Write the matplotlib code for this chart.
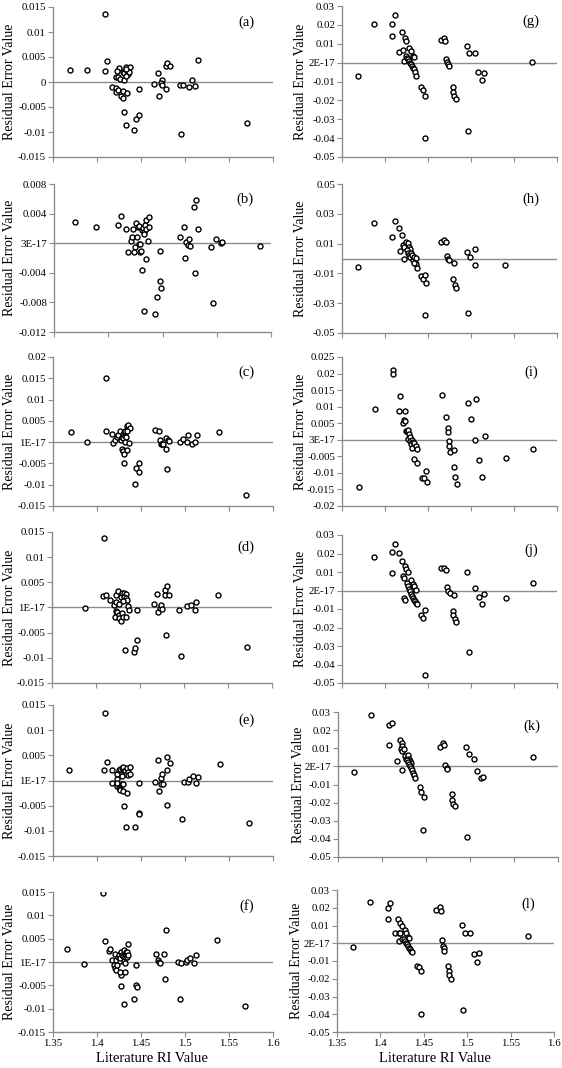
import matplotlib
matplotlib.use("Agg")
import matplotlib.pyplot as plt
import numpy as np

plt.rcParams["font.family"] = ["Liberation Serif", "DejaVu Serif"]

# ---------------- data (literature RI value, residual error) ----------------
a_x = [1.3693, 1.3883, 1.4091, 1.4087, 1.4117, 1.425, 1.4231, 1.4212, 1.4242, 1.4265, 1.4303, 1.4295,
       1.431, 1.4333, 1.4345, 1.4352, 1.436, 1.4371, 1.4326, 1.433, 1.4174, 1.4216, 1.422, 1.4242, 1.4269,
       1.4292, 1.4295, 1.4341, 1.4303, 1.4326, 1.4424, 1.4447, 1.4477, 1.4473, 1.4652, 1.4693, 1.4705,
       1.4735, 1.4723, 1.4742, 1.4788, 1.478, 1.4799, 1.4826, 1.4947, 1.4981, 1.4958, 1.5042, 1.508,
       1.5117, 1.5144, 1.5701]
a_y = [0.0024, 0.00247, 0.01367, 0.00227, 0.00413, 0.00287, 0.0022, 0.00107, 0.00107, 0.0006, 0.00047, 0.0021,
       0.0019, 0.003, 0.0023, 0.0017, 0.0021, 0.0031, 0.0013, 0.0027, -0.001, -0.0012, -0.0019, -0.0015, -0.0027,
       -0.0031, -0.0017, -0.0021, -0.0059, -0.0085, -0.0095, -0.0073, -0.0065, -0.0013, -0.0003, 0.0019, -0.0027,
       0.0005, -0.0001, -0.0005, -0.0013, 0.0033, 0.0039, 0.0033, -0.0005, -0.0005, -0.0103, -0.0009, 0.0004,
       -0.0007, 0.0045, -0.0081]

b_x = [1.3746, 1.3981, 1.4242, 1.4277, 1.4335, 1.4392, 1.4404, 1.4415, 1.4446, 1.4462, 1.4477, 1.4492,
       1.4431, 1.4419, 1.435, 1.4454, 1.4485, 1.4496, 1.4508, 1.4515, 1.4523, 1.4535, 1.4542, 1.455, 1.4558,
       1.4565, 1.4592, 1.4596, 1.4585, 1.4512, 1.4558, 1.4538, 1.4662, 1.4692, 1.4719, 1.4727, 1.4723,
       1.495, 1.4996, 1.5012, 1.5023, 1.5042, 1.5054, 1.5065, 1.5115, 1.5138, 1.5158, 1.5123, 1.5312,
       1.5331, 1.5362, 1.5423, 1.5431, 1.5869]
b_y = [0.0029, 0.0022, 0.0025, 0.0037, 0.0019, 0.0003, 0.0008, 0.0019, 0.0027, 0.0022, -0.0001, -0.0001,
       -0.0005, -0.0012, -0.0012, 0.0009, 0.0023, -0.0012, -0.0011, 0.0018, 0.0021, 0.0015, 0.0012, 0.0024, 0.0031,
       0.0019, 0.0022, 0.0036, 0.0003, -0.0036, -0.0021, -0.0092, -0.0096, -0.0073, -0.0051, -0.006, -0.0011,
       0.0008, 0.0022, -0.002, 0.0001, -0.0003, 0.0006, -0.0004, 0.0049, 0.0058, 0.0019, -0.004, -0.0005,
       -0.0081, 0.0006, 0.0, 0.0002, -0.0004]

c_x = [1.3705, 1.389, 1.4098, 1.4098, 1.417, 1.4182, 1.4205, 1.4227, 1.4239, 1.4261, 1.4269, 1.4284,
       1.4292, 1.4299, 1.4303, 1.4314, 1.4322, 1.4333, 1.4337, 1.4356, 1.4371, 1.4345, 1.4318, 1.4367,
       1.428, 1.4295, 1.4303, 1.4345, 1.4307, 1.4447, 1.4473, 1.4481, 1.4432, 1.4655, 1.4705, 1.4716,
       1.4723, 1.4735, 1.4746, 1.4784, 1.4807, 1.4822, 1.4788, 1.4792, 1.4943, 1.4981, 1.5027, 1.5038,
       1.5076, 1.5117, 1.5136, 1.5383, 1.5693]
c_y = [0.0023, 0.0001, 0.0151, 0.0025, 0.0018, -0.0003, 0.0005, 0.0012, 0.0016, 0.0027, 0.0005, 0.0012,
       0.0019, 0.0009, 0.0024, 0.0015, 0.0027, 0.0012, 0.0038, 0.004, 0.0034, 0.0025, 0.0001, -0.0001,
       -0.0016, -0.002, -0.0027, -0.0019, -0.0049, -0.006, -0.0071, -0.005, -0.0099, 0.0028, 0.0027, 0.0005,
       -0.0004, -0.0005, -0.0005, 0.001, 0.0004, 0.0003, -0.0015, -0.0063, 0.0001, 0.0008, 0.0001, 0.0016,
       -0.0004, 0.0001, 0.0017, 0.0024, -0.0123]

d_x = [1.388, 1.4089, 1.4085, 1.4119, 1.4161, 1.4203, 1.4229, 1.4229, 1.4252, 1.4226, 1.4233, 1.4218,
       1.4241, 1.4256, 1.4267, 1.4287, 1.4294, 1.4302, 1.4336, 1.426, 1.4283, 1.4294, 1.4313, 1.4336,
       1.4321, 1.434, 1.4355, 1.431, 1.4362, 1.437, 1.4328, 1.4427, 1.4446, 1.4469, 1.4469, 1.4655,
       1.4697, 1.4704, 1.4727, 1.4739, 1.475, 1.4788, 1.4784, 1.4807, 1.4826, 1.4792, 1.4948, 1.4963,
       1.5035, 1.5081, 1.5122, 1.5141, 1.5392, 1.5711]
d_y = [-0.0001, 0.0139, 0.0023, 0.0025, 0.0015, 0.0005, 0.0011, 0.0024, 0.0032, -0.0006, -0.0011, -0.0019,
       -0.0009, -0.0015, -0.0021, -0.0026, -0.0011, -0.0019, -0.0018, 0.0007, 0.0021, 0.0028, 0.0028, 0.0026,
       0.002, 0.0019, 0.0015, 0.0012, 0.0003, -0.0005, -0.0085, -0.0089, -0.0081, -0.0064, -0.0004, 0.0007,
       0.0027, -0.0008, -0.0001, 0.0004, -0.0003, 0.0034, 0.0024, 0.0042, 0.0025, -0.0054, -0.0004, -0.0096,
       0.0003, 0.0005, -0.0004, 0.0011, 0.0025, -0.0079]

e_x = [1.3686, 1.4089, 1.4085, 1.4116, 1.4165, 1.4176, 1.4222, 1.423, 1.423, 1.423, 1.4248, 1.426,
       1.4283, 1.4298, 1.4306, 1.4321, 1.4328, 1.434, 1.4347, 1.4355, 1.4374, 1.437, 1.4287, 1.4245,
       1.4256, 1.4267, 1.4279, 1.429, 1.4298, 1.434, 1.4302, 1.4328, 1.4431, 1.4473, 1.4477, 1.4477,
       1.4655, 1.4697, 1.4708, 1.4723, 1.4738, 1.4727, 1.475, 1.4792, 1.4795, 1.483, 1.4799, 1.4966,
       1.4985, 1.5039, 1.505, 1.5088, 1.5126, 1.5153, 1.54, 1.5723]
e_y = [0.002, 0.0134, 0.002, 0.0036, 0.002, -0.0005, 0.0013, 0.0003, -0.0011, -0.0005, 0.002, 0.0023,
       0.0025, 0.0026, 0.0018, 0.0019, 0.0013, 0.0024, 0.0017, 0.0011, 0.0026, 0.0013, 0.0009, -0.0014,
       -0.0016, -0.0019, -0.0006, -0.0006, -0.0021, -0.0025, -0.0051, -0.0092, -0.0093, -0.0005, -0.0064, -0.0067,
       -0.0002, 0.0041, -0.002, 0.0005, 0.0013, -0.0006, -0.0006, 0.002, 0.0046, 0.0034, -0.0048, -0.0076,
       -0.0003, -0.0003, 0.0002, 0.0008, -0.0004, 0.0006, 0.0032, -0.0085]

f_x = [1.3663, 1.3852, 1.4064, 1.4091, 1.4136, 1.4148, 1.42, 1.4174, 1.4189, 1.42, 1.4212, 1.4227,
       1.422, 1.4235, 1.4246, 1.4258, 1.4265, 1.4273, 1.4284, 1.4292, 1.4303, 1.4303, 1.4314, 1.4322,
       1.4326, 1.4333, 1.4341, 1.4345, 1.4352, 1.4269, 1.4258, 1.4318, 1.4314, 1.4348, 1.4273, 1.4303,
       1.442, 1.4447, 1.4447, 1.4451, 1.4667, 1.4689, 1.4701, 1.4712, 1.4761, 1.478, 1.4769, 1.492,
       1.4939, 1.4958, 1.5008, 1.5019, 1.5057, 1.5098, 1.5121, 1.5367, 1.5686]
f_y = [0.0028, -0.0005, 0.0148, 0.0046, 0.0024, 0.0027, 0.0017, 0.0004, -0.0006, -0.0012, -0.0017, -0.0006,
       0.0004, 0.0011, 0.0014, 0.0002, 0.0008, 0.0022, 0.0016, 0.0012, 0.0025, 0.0002, 0.0015, 0.001,
       0.0021, 0.0016, 0.0011, 0.0022, 0.0016, -0.0027, -0.0021, -0.0022, -0.0003, 0.0038, -0.0052, -0.0091,
       -0.0079, -0.0006, -0.0049, -0.0054, 0.0018, 0.0004, -0.0001, -0.0002, 0.0017, 0.0069, -0.0036, 0.0,
       -0.0079, -0.0003, 0.0, 0.0004, 0.0008, -0.0002, 0.0015, 0.0047, -0.0095]

g_x = [1.3682, 1.3871, 1.4083, 1.4111, 1.4083, 1.4203, 1.423, 1.4249, 1.4168, 1.4215, 1.4218, 1.4284,
       1.4304, 1.4331, 1.4335, 1.4246, 1.4257, 1.4269, 1.428, 1.4292, 1.4304, 1.4315, 1.4327, 1.4338,
       1.435, 1.4366, 1.442, 1.4439, 1.447, 1.4466, 1.4651, 1.4686, 1.4702, 1.4713, 1.4725, 1.4733,
       1.474, 1.4787, 1.4787, 1.4802, 1.4822, 1.4949, 1.498, 1.5046, 1.4965, 1.5084, 1.5146, 1.5123, 1.5714]
g_y = [-0.0069, 0.0205, 0.0204, 0.0251, 0.0143, 0.0161, 0.0133, 0.0115, 0.0055, 0.0067, 0.0007, 0.008,
       0.0062, 0.0037, 0.0032, 0.0035, 0.0027, 0.0018, 0.0009, 0.0, -0.0009, -0.0018, -0.0027, -0.0035,
       -0.0048, -0.0071, -0.0131, -0.0147, -0.0175, -0.0398, 0.0119, 0.0129, 0.0113, 0.0018, 0.0002, -0.0007,
       -0.0016, -0.0131, -0.0156, -0.0175, -0.0193, 0.009, 0.0051, 0.005, -0.0363, -0.0051, -0.0055, -0.0092, 0.0002]

h_x = [1.3682, 1.3871, 1.4111, 1.4083, 1.4157, 1.4203, 1.4172, 1.4211, 1.4226, 1.4222, 1.4249, 1.4269,
       1.428, 1.4296, 1.4253, 1.4269, 1.428, 1.4292, 1.4308, 1.4319, 1.4331, 1.4338, 1.4346, 1.4358,
       1.4369, 1.4362, 1.4338, 1.4423, 1.4447, 1.447, 1.4474, 1.447, 1.4651, 1.4686, 1.4705, 1.4717,
       1.4733, 1.4748, 1.4798, 1.4791, 1.481, 1.4829, 1.4949, 1.4988, 1.5042, 1.5049, 1.4968, 1.5401]
h_y = [-0.0058, 0.024, 0.0253, 0.0141, 0.0206, 0.0161, 0.0052, 0.009, 0.0078, 0.0, 0.0112, 0.0101,
       0.0078, 0.0067, 0.0056, 0.004, 0.0022, 0.0011, 0.0034, 0.0022, -0.0011, 0.0011, -0.0027, -0.004,
       -0.0061, 0.0004, -0.0029, -0.0117, -0.0137, -0.0108, -0.0164, -0.0381, 0.0112, 0.0126, 0.0114, 0.0016,
       -0.0004, -0.0013, -0.0031, -0.0135, -0.0177, -0.0197, 0.0045, 0.0007, -0.0045, 0.0067, -0.0365, -0.0045]

i_x = [1.3693, 1.3883, 1.4095, 1.4095, 1.4176, 1.4165, 1.4238, 1.4215, 1.4226, 1.4234, 1.4242, 1.4261,
       1.4273, 1.4281, 1.4265, 1.4292, 1.4292, 1.43, 1.4311, 1.4319, 1.4331, 1.4342, 1.4358, 1.4373,
       1.4342, 1.4369, 1.4478, 1.4431, 1.4458, 1.4485, 1.4663, 1.4713, 1.4729, 1.4729, 1.4744, 1.4744,
       1.4752, 1.4806, 1.4798, 1.4814, 1.4833, 1.496, 1.4999, 1.5057, 1.5045, 1.5158, 1.5096, 1.5131,
       1.5409, 1.5726]
i_y = [-0.0144, 0.0092, 0.0211, 0.02, 0.0132, 0.0088, 0.0088, 0.005, 0.0061, 0.0057, 0.0028, 0.0025,
       0.0031, 0.0017, 0.0003, 0.0009, -0.0003, -0.0013, -0.0025, -0.0001, -0.0006, -0.0011, -0.0018, -0.0028,
       -0.0058, -0.0071, -0.0093, -0.0114, -0.0114, -0.0127, 0.0134, 0.0069, 0.0035, 0.0023, -0.0004, -0.0019,
       -0.0037, -0.0031, -0.0083, -0.0111, -0.0134, 0.0111, 0.0062, 0.0123, -0.0002, 0.0011, -0.0062, -0.0112,
       -0.0056, -0.0028]

j_x = [1.3871, 1.4083, 1.4111, 1.4157, 1.4083, 1.4203, 1.423, 1.4249, 1.4265, 1.4215, 1.4222, 1.4218,
       1.423, 1.4253, 1.4308, 1.4331, 1.4338, 1.4362, 1.4265, 1.4277, 1.4288, 1.43, 1.4311, 1.4323,
       1.4334, 1.4346, 1.4358, 1.4369, 1.4423, 1.4443, 1.447, 1.447, 1.4651, 1.469, 1.4705, 1.4717,
       1.4733, 1.4752, 1.4798, 1.4791, 1.4791, 1.481, 1.4829, 1.4953, 1.5045, 1.4972, 1.5092, 1.5154,
       1.5131, 1.5405, 1.5726]
j_y = [0.018, 0.0209, 0.0252, 0.0203, 0.0095, 0.016, 0.0131, 0.0115, 0.0099, 0.0079, 0.007, -0.0043,
       -0.0049, 0.004, 0.0058, 0.0034, 0.0027, 0.0004, 0.0022, 0.0007, -0.0005, -0.0018, -0.0029, -0.004,
       -0.005, -0.0059, -0.0067, -0.0074, -0.0131, -0.0151, -0.0106, -0.0457, 0.0119, 0.0124, 0.0112, 0.0018,
       0.0, -0.0011, -0.0025, -0.0112, -0.0133, -0.0155, -0.0171, 0.0101, 0.0013, -0.0335, -0.0034, -0.002,
       -0.0074, -0.0043, 0.004]

k_x = [1.3681, 1.3873, 1.4081, 1.4111, 1.4081, 1.4171, 1.4201, 1.4224, 1.4231, 1.4216, 1.4224, 1.4254,
       1.4224, 1.4262, 1.4273, 1.4292, 1.4303, 1.4314, 1.4326, 1.4284, 1.4296, 1.4307, 1.4318, 1.433,
       1.4341, 1.4352, 1.4363, 1.4375, 1.4428, 1.4446, 1.4477, 1.4469, 1.4654, 1.4695, 1.4707, 1.4714,
       1.4733, 1.4744, 1.479, 1.479, 1.4808, 1.4824, 1.4952, 1.4989, 1.5046, 1.5084, 1.5121, 1.5148,
       1.4967, 1.5717]
k_y = [-0.0033, 0.0285, 0.0227, 0.024, 0.012, 0.003, 0.0146, 0.0128, 0.0115, 0.0094, 0.0085, 0.0096,
       -0.0022, 0.0057, 0.0043, 0.0061, 0.0043, 0.003, 0.0017, 0.0035, 0.0024, 0.0013, 0.0, -0.0011,
       -0.0022, -0.0035, -0.0048, -0.0065, -0.0116, -0.0139, -0.017, -0.0349, 0.0105, 0.0131, 0.012, 0.0007,
       -0.0007, -0.0015, -0.0153, -0.0187, -0.0205, -0.022, 0.0105, 0.007, 0.0039, -0.0026, -0.0065, -0.0061,
       -0.0392, 0.0052]

l_x = [1.3688, 1.3877, 1.4085, 1.4112, 1.4085, 1.4169, 1.4204, 1.4212, 1.4227, 1.4231, 1.4246, 1.4219,
       1.4254, 1.4285, 1.43, 1.4315, 1.4327, 1.4269, 1.4281, 1.4292, 1.4304, 1.4315, 1.4327, 1.4338,
       1.435, 1.4365, 1.4419, 1.4442, 1.4469, 1.4465, 1.4646, 1.4681, 1.4696, 1.4712, 1.4719, 1.4727,
       1.4735, 1.4781, 1.4785, 1.4796, 1.4815, 1.4942, 1.4973, 1.5038, 1.4954, 1.5073, 1.5135, 1.5112, 1.5704]
l_y = [-0.0023, 0.0232, 0.0196, 0.0224, 0.0136, 0.0056, 0.0139, 0.0058, 0.0115, 0.0056, 0.01, 0.0011,
       0.0026, 0.0072, 0.0055, 0.0036, 0.0028, 0.0024, 0.0013, 0.0004, -0.0006, -0.0015, -0.0024, -0.0034,
       -0.0043, -0.0051, -0.0126, -0.0132, -0.0154, -0.0399, 0.0185, 0.0202, 0.0181, 0.0017, -0.0013, -0.0024,
       -0.0041, -0.0126, -0.0156, -0.0179, -0.0202, 0.0104, 0.0058, 0.0058, -0.0377, -0.0058, -0.0053, -0.0104, 0.0041]

# y ranges / steps and the label Excel printed at zero
y_ticks = {
    "a": (-0.015, 0.015, 0.005, "0"),
    "b": (-0.012, 0.008, 0.004, "3E-17"),
    "c": (-0.015, 0.02, 0.005, "1E-17"),
    "d": (-0.015, 0.015, 0.005, "1E-17"),
    "e": (-0.015, 0.015, 0.005, "1E-17"),
    "f": (-0.015, 0.015, 0.005, "1E-17"),
    "g": (-0.05, 0.03, 0.01, "2E-17"),
    "h": (-0.05, 0.05, 0.02, None),
    "i": (-0.02, 0.025, 0.005, "3E-17"),
    "j": (-0.05, 0.03, 0.01, "2E-17"),
    "k": (-0.05, 0.03, 0.01, "2E-17"),
    "l": (-0.05, 0.03, 0.01, "2E-17"),
}
x_ticks = [1.35, 1.4, 1.45, 1.5, 1.55, 1.6]
x_tick_labels = ["1.35", "1.4", "1.45", "1.5", "1.55", "1.6"]

# ---------------- layout in pixels: left, top, right, bottom ----------------
W, H = 562, 1068
boxes = {
    "a": (53, 7, 273, 157), "g": (342, 6, 557, 157),
    "b": (54, 184, 271, 332), "h": (342, 184, 557, 333),
    "c": (53, 357, 273, 506), "i": (342, 357, 557, 506),
    "d": (52, 532, 272, 683), "j": (342, 535, 557, 683),
    "e": (53, 705, 273, 856), "k": (338, 712, 558, 857),
    "f": (53, 892, 273, 1032), "l": (337, 890, 554, 1032),
}
# x centre of each "Residual Error Value" label
ylab_x = {"a": 10, "b": 10, "c": 10, "d": 10, "e": 10, "f": 10,
          "g": 301, "h": 301, "i": 301, "j": 301, "k": 298, "l": 296}
data = {"a": (a_x, a_y), "b": (b_x, b_y), "c": (c_x, c_y), "d": (d_x, d_y),
        "e": (e_x, e_y), "f": (f_x, f_y), "g": (g_x, g_y), "h": (h_x, h_y),
        "i": (i_x, i_y), "j": (j_x, j_y), "k": (k_x, k_y), "l": (l_x, l_y)}

gray = "#8c8c8c"
fig = plt.figure(figsize=(W / 100, H / 100), dpi=100)

for key, (L, T, R, B) in boxes.items():
    ax = fig.add_axes([L / W, 1 - B / H, (R - L) / W, (B - T) / H])
    xs, ys = data[key]
    lo, hi, step, zero_lab = y_ticks[key]

    ax.axhline(0, color=gray, lw=1.0, zorder=1)
    ax.plot(xs, ys, "o", ms=3.6, mfc="white", mec="black", mew=1.0, zorder=3)

    ax.set_xlim(1.35, 1.6)
    ax.set_ylim(lo, hi)
    if key == "b":
        ax.set_xticks(np.linspace(1.35, 1.6, 5))
    else:
        ax.set_xticks(x_ticks)
    if key in ("f", "l"):
        ax.set_xticklabels(x_tick_labels)
    else:
        ax.set_xticklabels([])

    yt = np.round(np.arange(lo, hi + step / 2, step), 4)
    labels = []
    for v in yt:
        if abs(v) < 1e-9:
            labels.append(zero_lab if zero_lab else "")
        else:
            labels.append(f"{v:g}")
    ax.set_yticks(yt)
    ax.set_yticklabels(labels)

    for s in ("top", "right"):
        ax.spines[s].set_visible(False)
    for s in ("left", "bottom"):
        ax.spines[s].set_color(gray)
        ax.spines[s].set_linewidth(1.0)
    ax.tick_params(direction="out", length=3.5, width=0.8, color=gray,
                   labelsize=7.8, pad=1.5, labelcolor="black")

    ax.text(0.88, 0.9, f"({key})", transform=ax.transAxes, ha="center",
            va="center", fontsize=10.5)

    fig.text(ylab_x[key] / W, 1 - (T + B) / 2 / H, "Residual Error Value",
             rotation=90, ha="center", va="center", fontsize=10)

fig.text(152 / W, 1 - 1059 / H, "Literature RI Value", ha="center", va="center", fontsize=10.5)
fig.text(435 / W, 1 - 1059 / H, "Literature RI Value", ha="center", va="center", fontsize=10.5)

fig.savefig("out.png", dpi=100)
